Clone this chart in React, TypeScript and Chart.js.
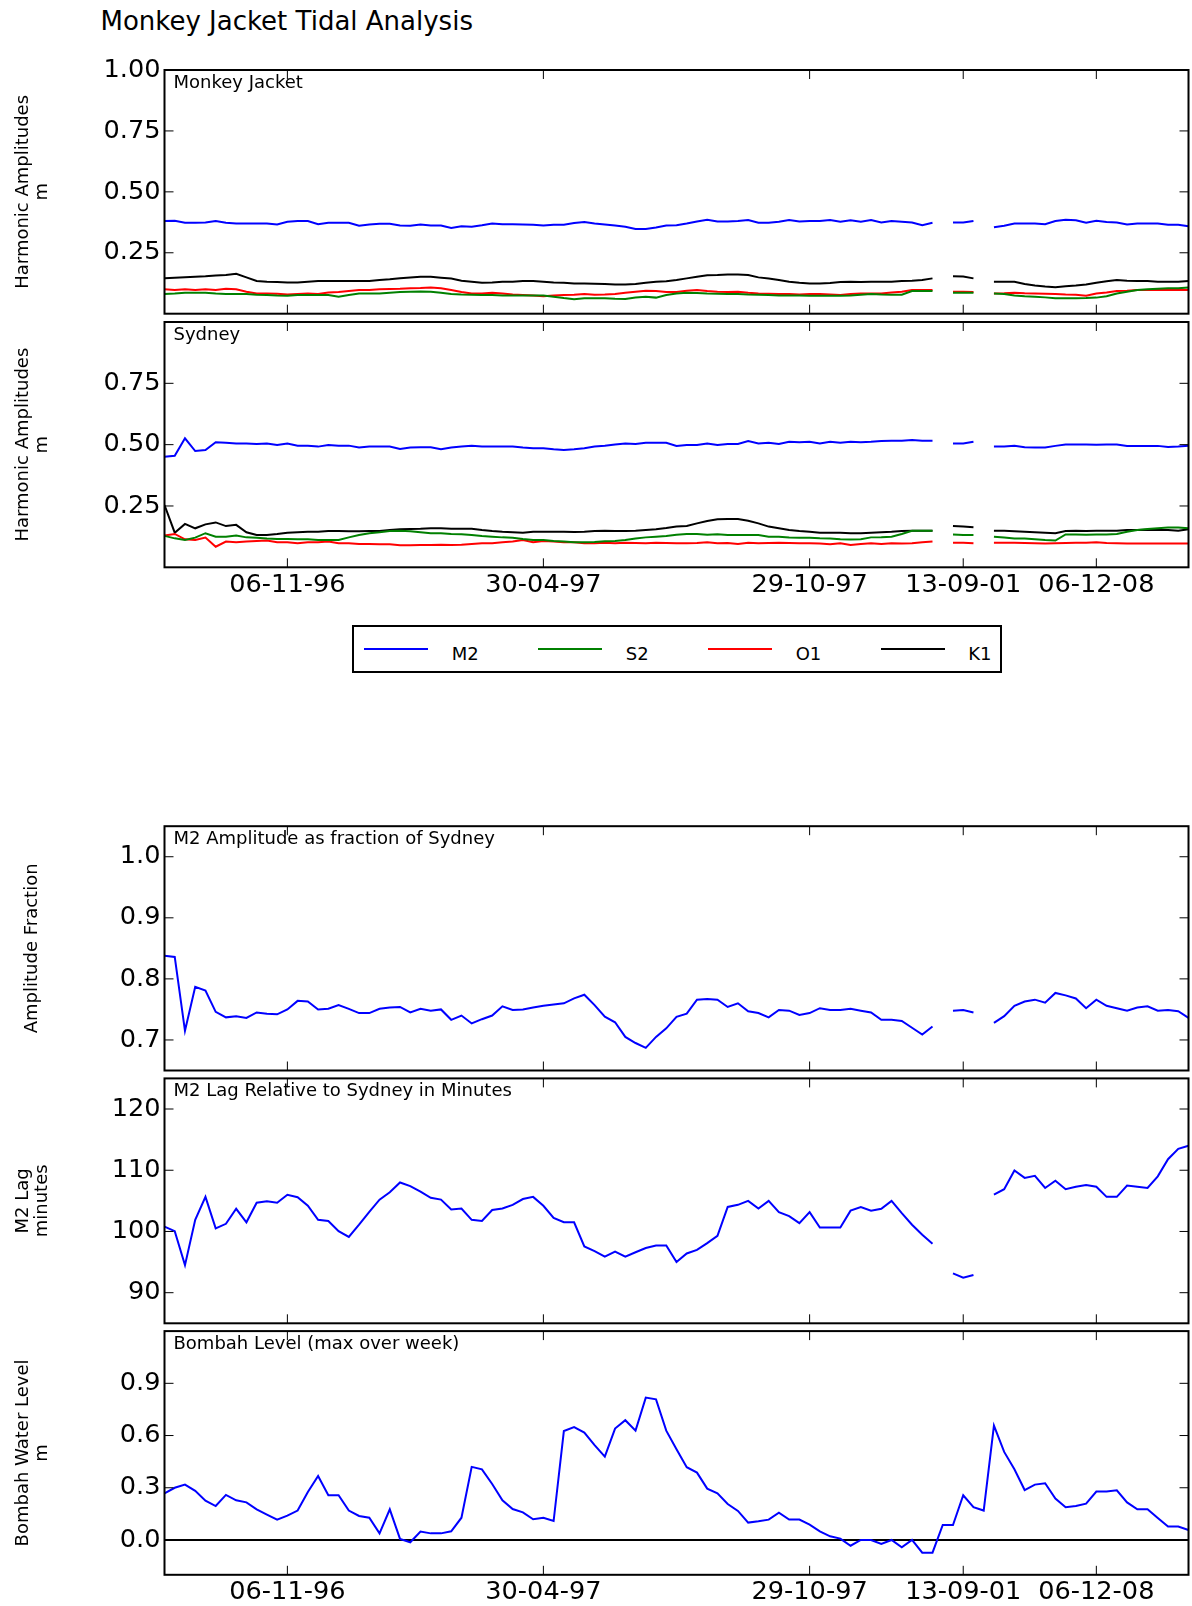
import React, { useEffect, useRef } from "react";
import { Chart, registerables } from "chart.js";

Chart.register(...registerables);

const FONT = "'DejaVu Sans', 'Bitstream Vera Sans', 'Liberation Sans', sans-serif";

// ---------- data ----------
// x position = weekly sample index
const WEEK_INDEX = Array.from({ length: 101 }, (_, i) => i);
const X_MIN = 0;
const X_MAX = 100;
const X_TICKS = [12, 37, 63, 78, 91];
const X_TICK_LABELS = ["06-11-96", "30-04-97", "29-10-97", "13-09-01", "06-12-08"];

const CONSTITUENTS = ["M2", "S2", "O1", "K1"];
const CONSTITUENT_COLORS = ["#0000ff", "#008000", "#ff0000", "#000000"];

const N = null;

const MJ_M2 = [
  0.380, 0.381, 0.373, 0.373, 0.374, 0.380, 0.373, 0.370, 0.370, 0.370,
  0.370, 0.366, 0.377, 0.380, 0.380, 0.367, 0.373, 0.373, 0.373, 0.361,
  0.366, 0.369, 0.369, 0.362, 0.361, 0.366, 0.362, 0.362, 0.352, 0.359,
  0.357, 0.363, 0.370, 0.367, 0.367, 0.366, 0.365, 0.362, 0.365, 0.365,
  0.372, 0.376, 0.370, 0.366, 0.362, 0.357, 0.348, 0.348, 0.354, 0.362,
  0.363, 0.370, 0.378, 0.385, 0.378, 0.378, 0.380, 0.384, 0.373, 0.373,
  0.377, 0.384, 0.378, 0.380, 0.380, 0.384, 0.377, 0.383, 0.377, 0.384,
  0.374, 0.380, 0.377, 0.374, 0.363, 0.373, N, 0.374, 0.374, 0.380,
  N, 0.355, 0.361, 0.370, 0.370, 0.370, 0.367, 0.380, 0.385, 0.383,
  0.373, 0.381, 0.376, 0.374, 0.366, 0.370, 0.370, 0.370, 0.365, 0.365,
  0.359,
];
const MJ_S2 = [
  0.081, 0.083, 0.086, 0.086, 0.086, 0.083, 0.081, 0.081, 0.081, 0.078,
  0.077, 0.075, 0.074, 0.077, 0.077, 0.077, 0.077, 0.070, 0.077, 0.083,
  0.083, 0.083, 0.086, 0.089, 0.090, 0.091, 0.090, 0.086, 0.081, 0.079,
  0.078, 0.077, 0.077, 0.075, 0.075, 0.075, 0.075, 0.075, 0.070, 0.064,
  0.059, 0.063, 0.063, 0.063, 0.061, 0.060, 0.066, 0.070, 0.066, 0.077,
  0.083, 0.086, 0.085, 0.083, 0.082, 0.081, 0.081, 0.079, 0.078, 0.077,
  0.075, 0.075, 0.075, 0.074, 0.074, 0.074, 0.074, 0.075, 0.078, 0.081,
  0.079, 0.078, 0.078, 0.093, 0.093, 0.093, N, 0.086, 0.086, 0.086,
  N, 0.083, 0.081, 0.075, 0.072, 0.070, 0.067, 0.063, 0.063, 0.063,
  0.064, 0.066, 0.072, 0.083, 0.090, 0.097, 0.100, 0.102, 0.104, 0.104,
  0.108,
];
const MJ_O1 = [
  0.100, 0.097, 0.100, 0.097, 0.100, 0.097, 0.102, 0.100, 0.090, 0.083,
  0.083, 0.082, 0.079, 0.081, 0.083, 0.081, 0.087, 0.089, 0.093, 0.097,
  0.097, 0.100, 0.101, 0.102, 0.104, 0.105, 0.108, 0.104, 0.097, 0.089,
  0.083, 0.083, 0.086, 0.083, 0.079, 0.077, 0.075, 0.072, 0.075, 0.077,
  0.078, 0.081, 0.078, 0.079, 0.081, 0.086, 0.090, 0.094, 0.093, 0.089,
  0.089, 0.094, 0.097, 0.093, 0.090, 0.089, 0.090, 0.086, 0.083, 0.082,
  0.081, 0.081, 0.079, 0.081, 0.081, 0.079, 0.077, 0.081, 0.083, 0.083,
  0.083, 0.087, 0.090, 0.097, 0.097, 0.097, N, 0.090, 0.090, 0.089,
  N, 0.083, 0.084, 0.086, 0.084, 0.083, 0.082, 0.081, 0.079, 0.078,
  0.074, 0.083, 0.087, 0.093, 0.094, 0.097, 0.097, 0.097, 0.097, 0.097,
  0.097,
];
const MJ_K1 = [
  0.145, 0.148, 0.150, 0.152, 0.154, 0.157, 0.159, 0.164, 0.149, 0.134,
  0.131, 0.130, 0.128, 0.128, 0.131, 0.134, 0.134, 0.134, 0.134, 0.134,
  0.134, 0.138, 0.141, 0.145, 0.149, 0.152, 0.152, 0.148, 0.144, 0.135,
  0.131, 0.127, 0.128, 0.131, 0.131, 0.134, 0.134, 0.131, 0.128, 0.127,
  0.124, 0.124, 0.123, 0.122, 0.120, 0.120, 0.122, 0.127, 0.131, 0.133,
  0.138, 0.145, 0.152, 0.158, 0.159, 0.161, 0.161, 0.159, 0.149, 0.144,
  0.138, 0.131, 0.127, 0.124, 0.124, 0.126, 0.130, 0.131, 0.130, 0.131,
  0.131, 0.131, 0.134, 0.135, 0.138, 0.145, N, 0.154, 0.153, 0.145,
  N, 0.131, 0.131, 0.131, 0.122, 0.116, 0.112, 0.109, 0.113, 0.116,
  0.120, 0.127, 0.133, 0.138, 0.135, 0.134, 0.134, 0.131, 0.131, 0.131,
  0.134,
];

const SYD_M2 = [
  0.451, 0.455, 0.526, 0.474, 0.478, 0.510, 0.508, 0.505, 0.505, 0.503,
  0.505, 0.499, 0.505, 0.496, 0.496, 0.492, 0.499, 0.496, 0.496, 0.488,
  0.492, 0.492, 0.492, 0.482, 0.488, 0.489, 0.489, 0.481, 0.488, 0.492,
  0.496, 0.492, 0.492, 0.492, 0.492, 0.488, 0.485, 0.485, 0.481, 0.478,
  0.481, 0.485, 0.492, 0.496, 0.501, 0.505, 0.503, 0.508, 0.508, 0.508,
  0.495, 0.499, 0.499, 0.505, 0.499, 0.503, 0.503, 0.515, 0.505, 0.508,
  0.503, 0.512, 0.510, 0.512, 0.505, 0.512, 0.508, 0.512, 0.510, 0.512,
  0.515, 0.516, 0.516, 0.519, 0.516, 0.516, N, 0.505, 0.505, 0.512,
  N, 0.492, 0.492, 0.495, 0.489, 0.488, 0.488, 0.495, 0.501, 0.501,
  0.501, 0.500, 0.501, 0.501, 0.495, 0.495, 0.495, 0.495, 0.490, 0.492,
  0.496,
];
const SYD_S2 = [
  0.128, 0.118, 0.111, 0.121, 0.139, 0.125, 0.125, 0.130, 0.122, 0.120,
  0.117, 0.115, 0.115, 0.114, 0.114, 0.111, 0.111, 0.111, 0.122, 0.132,
  0.139, 0.143, 0.148, 0.149, 0.147, 0.143, 0.139, 0.139, 0.136, 0.135,
  0.132, 0.128, 0.125, 0.122, 0.120, 0.115, 0.111, 0.111, 0.107, 0.105,
  0.102, 0.102, 0.103, 0.106, 0.107, 0.111, 0.117, 0.122, 0.125, 0.128,
  0.133, 0.136, 0.136, 0.133, 0.135, 0.132, 0.132, 0.132, 0.132, 0.125,
  0.125, 0.121, 0.120, 0.120, 0.118, 0.117, 0.114, 0.113, 0.114, 0.122,
  0.123, 0.125, 0.136, 0.149, 0.149, 0.149, N, 0.134, 0.132, 0.132,
  N, 0.125, 0.121, 0.117, 0.117, 0.114, 0.111, 0.109, 0.134, 0.134,
  0.133, 0.134, 0.134, 0.136, 0.145, 0.152, 0.156, 0.159, 0.162, 0.162,
  0.159,
];
const SYD_O1 = [
  0.130, 0.136, 0.114, 0.111, 0.121, 0.084, 0.105, 0.102, 0.105, 0.107,
  0.109, 0.102, 0.102, 0.098, 0.102, 0.102, 0.105, 0.098, 0.098, 0.095,
  0.095, 0.094, 0.094, 0.090, 0.090, 0.091, 0.091, 0.092, 0.091, 0.092,
  0.095, 0.098, 0.098, 0.102, 0.105, 0.111, 0.102, 0.107, 0.105, 0.102,
  0.102, 0.098, 0.098, 0.100, 0.098, 0.100, 0.099, 0.098, 0.100, 0.099,
  0.098, 0.098, 0.099, 0.102, 0.098, 0.099, 0.095, 0.100, 0.098, 0.099,
  0.100, 0.099, 0.098, 0.098, 0.097, 0.094, 0.098, 0.091, 0.095, 0.098,
  0.095, 0.098, 0.097, 0.098, 0.102, 0.105, N, 0.100, 0.100, 0.098,
  N, 0.100, 0.100, 0.100, 0.099, 0.098, 0.097, 0.098, 0.099, 0.100,
  0.100, 0.102, 0.099, 0.098, 0.097, 0.097, 0.097, 0.097, 0.097, 0.097,
  0.097,
];
const SYD_K1 = [
  0.254, 0.141, 0.177, 0.159, 0.175, 0.183, 0.168, 0.173, 0.143, 0.132,
  0.132, 0.136, 0.141, 0.143, 0.145, 0.145, 0.148, 0.148, 0.147, 0.147,
  0.148, 0.148, 0.152, 0.155, 0.156, 0.157, 0.159, 0.159, 0.157, 0.157,
  0.157, 0.152, 0.148, 0.145, 0.143, 0.141, 0.145, 0.145, 0.145, 0.145,
  0.144, 0.145, 0.148, 0.149, 0.148, 0.148, 0.149, 0.152, 0.155, 0.160,
  0.166, 0.168, 0.179, 0.189, 0.196, 0.197, 0.197, 0.190, 0.179, 0.166,
  0.159, 0.152, 0.148, 0.145, 0.141, 0.141, 0.141, 0.139, 0.139, 0.141,
  0.143, 0.145, 0.148, 0.149, 0.149, 0.149, N, 0.168, 0.166, 0.163,
  N, 0.149, 0.149, 0.147, 0.145, 0.143, 0.141, 0.139, 0.148, 0.149,
  0.148, 0.149, 0.149, 0.149, 0.152, 0.152, 0.153, 0.152, 0.152, 0.149,
  0.155,
];

const M2_FRACTION = [
  0.838, 0.836, 0.715, 0.787, 0.781, 0.746, 0.737, 0.739, 0.736, 0.745,
  0.743, 0.742, 0.750, 0.764, 0.763, 0.750, 0.751, 0.757, 0.751, 0.744,
  0.744, 0.751, 0.753, 0.754, 0.745, 0.751, 0.748, 0.750, 0.733, 0.740,
  0.727, 0.734, 0.740, 0.755, 0.749, 0.750, 0.753, 0.756, 0.758, 0.760,
  0.768, 0.774, 0.757, 0.738, 0.729, 0.705, 0.695, 0.687, 0.705, 0.719,
  0.738, 0.743, 0.766, 0.767, 0.766, 0.754, 0.760, 0.747, 0.744, 0.737,
  0.749, 0.748, 0.741, 0.744, 0.752, 0.749, 0.749, 0.751, 0.748, 0.745,
  0.733, 0.733, 0.731, 0.720, 0.709, 0.722, N, 0.748, 0.749, 0.745,
  N, 0.728, 0.739, 0.756, 0.763, 0.766, 0.761, 0.777, 0.773, 0.768,
  0.752, 0.766, 0.756, 0.752, 0.748, 0.753, 0.755, 0.748, 0.749, 0.747,
  0.736,
];

const M2_LAG_MIN = [
  100.8, 100.05, 94.5, 101.9, 105.65, 100.5, 101.25, 103.7, 101.5, 104.7,
  104.95, 104.7, 106.0, 105.6, 104.2, 101.9, 101.7, 100.05, 99.1, 101.1,
  103.2, 105.2, 106.4, 108.0, 107.4, 106.5, 105.5, 105.2, 103.6, 103.75,
  101.9, 101.7, 103.5, 103.75, 104.35, 105.3, 105.65, 104.2, 102.2, 101.5,
  101.5, 97.55, 96.8, 95.9, 96.7, 95.9, 96.6, 97.3, 97.7, 97.7,
  95.0, 96.4, 97.0, 98.1, 99.3, 104.0, 104.35, 105.0, 103.75, 105.0,
  103.15, 102.5, 101.35, 103.15, 100.65, 100.65, 100.65, 103.4, 104.0, 103.4,
  103.7, 105.0, 103.0, 101.1, 99.45, 98.0, N, 93.15, 92.45, 92.9,
  N, 106.0, 106.9, 109.95, 108.75, 109.1, 107.1, 108.3, 106.9, 107.3,
  107.6, 107.3, 105.65, 105.65, 107.5, 107.3, 107.1, 109.0, 111.8, 113.5,
  114.0,
];

const BOMBAH_LEVEL = [
  0.268, 0.300, 0.318, 0.282, 0.226, 0.195, 0.259, 0.228, 0.216, 0.176,
  0.146, 0.117, 0.140, 0.169, 0.276, 0.368, 0.257, 0.257, 0.169, 0.138,
  0.128, 0.038, 0.176, 0.006, -0.013, 0.048, 0.038, 0.038, 0.050, 0.128,
  0.420, 0.406, 0.322, 0.228, 0.178, 0.159, 0.119, 0.128, 0.109, 0.626,
  0.648, 0.617, 0.545, 0.479, 0.640, 0.688, 0.628, 0.818, 0.808, 0.628,
  0.521, 0.418, 0.387, 0.295, 0.268, 0.207, 0.167, 0.100, 0.107, 0.117,
  0.157, 0.117, 0.117, 0.088, 0.050, 0.021, 0.008, -0.033, 0.0, 0.0,
  -0.023, 0.0, -0.042, 0.0, -0.073, -0.073, 0.086, 0.086, 0.257, 0.188,
  0.169, 0.657, 0.506, 0.406, 0.287, 0.318, 0.326, 0.238, 0.188, 0.195,
  0.209, 0.278, 0.278, 0.285, 0.216, 0.176, 0.176, 0.126, 0.077, 0.077,
  0.057,
];
const ZERO_LEVEL = [0, 0];

// ---------- layout ----------
const W = 1192;
const PLOT_LEFT = 164.5;
const PLOT_RIGHT = 1188.5;
const TICK_FONT = 25.6;

type Series = { label: string; color: string; values: (number | null)[]; xs?: number[] };
type PanelSpec = {
  canvasTop: number;
  canvasHeight: number;
  chartTop: number;
  chartBottom: number;
  yMin: number;
  yMax: number;
  yTicks: number[];
  yDecimals: number;
  yTitle: string | string[];
  yTitlePad: number;
  note: string;
  series: Series[];
  showXLabels: boolean;
  xLabelPad: number;
};

function Panel({ spec }: { spec: PanelSpec }) {
  const ref = useRef<HTMLCanvasElement | null>(null);
  useEffect(() => {
    const canvas = ref.current;
    if (!canvas) return;
    const s = spec;
    const framePlugin = {
      id: "frame",
      afterDraw(chart: any) {
        const { ctx, chartArea: a, scales } = chart;
        ctx.save();
        ctx.strokeStyle = "#000";
        ctx.lineWidth = 1;
        const seg = (x1: number, y1: number, x2: number, y2: number) => {
          ctx.beginPath();
          ctx.moveTo(x1, y1);
          ctx.lineTo(x2, y2);
          ctx.stroke();
        };
        const TL = 9;
        scales.x.ticks.forEach((t: any) => {
          const px = scales.x.getPixelForValue(t.value);
          seg(px, a.top, px, a.top + TL);
          seg(px, a.bottom - TL, px, a.bottom);
        });
        scales.y.ticks.forEach((t: any) => {
          const py = scales.y.getPixelForValue(t.value);
          seg(a.left, py, a.left + TL, py);
          seg(a.right - TL, py, a.right, py);
        });
        ctx.lineWidth = 2;
        ctx.strokeRect(a.left, a.top, a.right - a.left, a.bottom - a.top);
        ctx.fillStyle = "#000";
        ctx.font = `18px ${FONT}`;
        ctx.textAlign = "left";
        ctx.textBaseline = "alphabetic";
        ctx.fillText(s.note, a.left + 9, a.top + 18);
        ctx.restore();
      },
    };

    const chart = new Chart(canvas, {
      type: "line",
      data: {
        datasets: s.series.map((ser) => ({
          label: ser.label,
          data: ser.values.map((v, i) => ({ x: ser.xs ? ser.xs[i] : WEEK_INDEX[i], y: v })),
          borderColor: ser.color,
          backgroundColor: ser.color,
          borderWidth: 2,
          pointRadius: 0,
          tension: 0,
          spanGaps: false,
          fill: false,
        })),
      },
      options: {
        animation: false,
        responsive: false,
        maintainAspectRatio: false,
        devicePixelRatio: 1,
        events: [],
        layout: {
          autoPadding: false,
          padding: { top: s.chartTop - s.canvasTop, left: 0, right: W - PLOT_RIGHT, bottom: 0 },
        },
        plugins: {
          legend: { display: false },
          tooltip: { enabled: false },
          title: { display: false },
        },
        scales: {
          x: {
            type: "linear",
            min: X_MIN,
            max: X_MAX,
            grid: { display: false, drawTicks: false },
            border: { display: false },
            ticks: {
              display: s.showXLabels,
              autoSkip: false,
              maxRotation: 0,
              minRotation: 0,
              padding: s.xLabelPad,
              color: "#000",
              font: { family: FONT, size: TICK_FONT },
              callback: (value: any) => {
                const k = X_TICKS.indexOf(Number(value));
                return k >= 0 ? X_TICK_LABELS[k] : "";
              },
            },
            afterBuildTicks: (scale: any) => {
              scale.ticks = X_TICKS.map((v) => ({ value: v }));
            },
            afterFit: (scale: any) => {
              scale.height = s.canvasTop + s.canvasHeight - s.chartBottom;
              scale.paddingLeft = 0;
              scale.paddingRight = 0;
            },
          },
          y: {
            type: "linear",
            min: s.yMin,
            max: s.yMax,
            grid: { display: false, drawTicks: false },
            border: { display: false },
            ticks: {
              autoSkip: false,
              padding: 4,
              color: "#000",
              font: { family: FONT, size: TICK_FONT },
              callback: (value: any) => Number(value).toFixed(s.yDecimals),
            },
            afterBuildTicks: (scale: any) => {
              scale.ticks = s.yTicks.map((v) => ({ value: v }));
            },
            title: {
              display: true,
              text: s.yTitle,
              color: "#000",
              font: { family: FONT, size: 18, lineHeight: 19 / 18 },
              padding: { top: s.yTitlePad, bottom: 0 },
            },
            afterFit: (scale: any) => {
              scale.width = PLOT_LEFT;
              scale.paddingTop = 0;
              scale.paddingBottom = 0;
            },
          },
        },
      } as any,
      plugins: [framePlugin],
    });
    return () => chart.destroy();
  }, [spec]);
  return (
    <canvas
      ref={ref}
      width={W}
      height={spec.canvasHeight}
      style={{ position: "absolute", left: 0, top: spec.canvasTop, width: W, height: spec.canvasHeight, display: "block" }}
    />
  );
}

const constituentSeries = (vals: (number | null)[][]): Series[] =>
  CONSTITUENTS.map((name, k) => ({ label: name, color: CONSTITUENT_COLORS[k], values: vals[k] }));

const PANELS: PanelSpec[] = [
  {
    canvasTop: 48, canvasHeight: 270, chartTop: 70, chartBottom: 313.7,
    yMin: 0, yMax: 1, yTicks: [0.25, 0.5, 0.75, 1.0], yDecimals: 2,
    yTitle: ["Harmonic Amplitudes", "m"], yTitlePad: 13.5, note: "Monkey Jacket",
    series: constituentSeries([MJ_M2, MJ_S2, MJ_O1, MJ_K1]), showXLabels: false, xLabelPad: 0,
  },
  {
    canvasTop: 318, canvasHeight: 294, chartTop: 322, chartBottom: 567.3,
    yMin: 0, yMax: 1, yTicks: [0.25, 0.5, 0.75], yDecimals: 2,
    yTitle: ["Harmonic Amplitudes", "m"], yTitlePad: 13.5, note: "Sydney",
    series: constituentSeries([SYD_M2, SYD_S2, SYD_O1, SYD_K1]), showXLabels: true, xLabelPad: 3,
  },
  {
    canvasTop: 800, canvasHeight: 275, chartTop: 826.2, chartBottom: 1070.5,
    yMin: 0.65, yMax: 1.05, yTicks: [0.7, 0.8, 0.9, 1.0], yDecimals: 1,
    yTitle: "Amplitude Fraction", yTitlePad: 22.5, note: "M2 Amplitude as fraction of Sydney",
    series: [{ label: "M2 fraction", color: "#0000ff", values: M2_FRACTION }], showXLabels: false, xLabelPad: 0,
  },
  {
    canvasTop: 1075, canvasHeight: 252, chartTop: 1078.4, chartBottom: 1323.3,
    yMin: 85, yMax: 125, yTicks: [90, 100, 110, 120], yDecimals: 0,
    yTitle: ["M2 Lag", "minutes"], yTitlePad: 13.5, note: "M2 Lag Relative to Sydney in Minutes",
    series: [{ label: "M2 lag", color: "#0000ff", values: M2_LAG_MIN }], showXLabels: false, xLabelPad: 0,
  },
  {
    canvasTop: 1327, canvasHeight: 279, chartTop: 1331.1, chartBottom: 1574.8,
    yMin: -0.2, yMax: 1.2, yTicks: [0.0, 0.3, 0.6, 0.9], yDecimals: 1,
    yTitle: ["Bombah Water Level", "m"], yTitlePad: 13.5, note: "Bombah Level (max over week)",
    series: [
      { label: "Bombah level", color: "#0000ff", values: BOMBAH_LEVEL },
      { label: "zero", color: "#000000", values: ZERO_LEVEL, xs: [X_MIN, X_MAX] },
    ],
    showXLabels: true, xLabelPad: 2.5,
  },
];

export default function App() {
  return (
    <div style={{ position: "absolute", left: 0, top: 0, width: W, height: 1606, background: "#fff", overflow: "hidden" }}>
      <div
        style={{
          position: "absolute", left: 100.5, top: 8, font: `26px ${FONT}`, lineHeight: "26px",
          whiteSpace: "nowrap", color: "#000",
        }}
      >
        Monkey Jacket Tidal Analysis
      </div>
      {PANELS.map((p, i) => (
        <Panel key={i} spec={p} />
      ))}
      <div
        style={{
          position: "absolute", left: 352, top: 625, width: 650, height: 48,
          border: "2px solid #000", boxSizing: "border-box", background: "#fff",
        }}
      />
      <div
        style={{
          position: "absolute", left: 364.3, top: 644.8, display: "flex", alignItems: "flex-start",
          font: `18px ${FONT}`, lineHeight: "18px", color: "#000",
        }}
      >
        {CONSTITUENTS.map((name, k) => (
          <div key={name} style={{ display: "flex", alignItems: "flex-start", marginRight: k < CONSTITUENTS.length - 1 ? 59.5 : 0 }}>
            <div style={{ width: 64, height: 2, marginTop: 3.2, background: CONSTITUENT_COLORS[k] }} />
            <span style={{ marginLeft: 23.5, whiteSpace: "nowrap" }}>{name}</span>
          </div>
        ))}
      </div>
    </div>
  );
}
